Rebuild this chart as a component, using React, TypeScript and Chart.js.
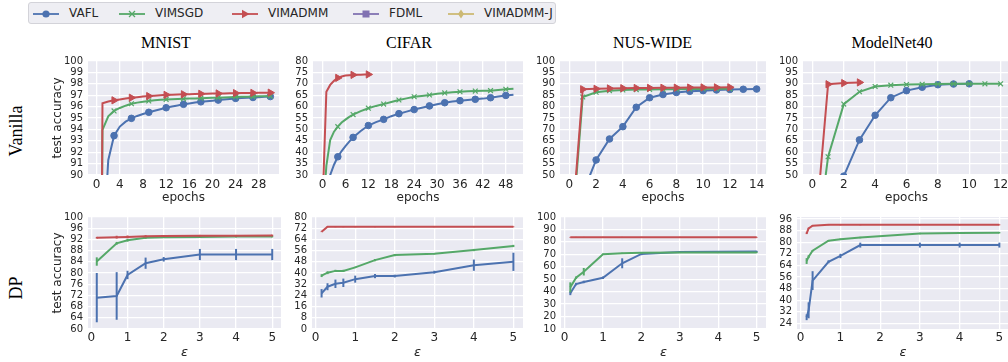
import React, { useEffect, useRef } from 'react';
import { Chart, registerables } from 'chart.js';
Chart.register(...registerables);

// ---------------- data ----------------
const seriesNames = ['VAFL', 'VIMSGD', 'VIMADMM', 'FDML', 'VIMADMM-J'];
const columnTitles = ['MNIST', 'CIFAR', 'NUS-WIDE', 'ModelNet40'];
const rowTitles = ['Vanilla', 'DP'];

// Vanilla – MNIST
const mnistEpochs = [0, 1, 2, 3, 4, 5, 6, 7, 8, 9, 10, 11, 12, 13, 14, 15, 16, 17, 18, 19, 20, 21, 22, 23, 24, 25, 26, 27, 28, 29, 30];
const mnistVafl = [10, 82.5, 91.3, 93.45, 94.25, 94.68, 94.97, 95.18, 95.35, 95.5, 95.64, 95.77, 95.9, 96.0, 96.1, 96.2, 96.28, 96.35, 96.42, 96.47, 96.52, 96.57, 96.62, 96.67, 96.72, 96.75, 96.78, 96.8, 96.83, 96.86, 96.88];
const mnistVimsgd = [10, 93.95, 95.15, 95.62, 95.88, 96.08, 96.25, 96.35, 96.43, 96.5, 96.55, 96.6, 96.63, 96.65, 96.67, 96.68, 96.7, 96.72, 96.74, 96.76, 96.77, 96.78, 96.8, 96.82, 96.84, 96.86, 96.87, 96.88, 96.9, 96.91, 96.92];
const mnistVimadmm = [10, 96.3, 96.45, 96.55, 96.63, 96.71, 96.78, 96.83, 96.88, 96.92, 96.96, 97.0, 97.03, 97.05, 97.07, 97.08, 97.09, 97.11, 97.12, 97.13, 97.14, 97.15, 97.16, 97.17, 97.18, 97.19, 97.19, 97.2, 97.21, 97.21, 97.22];
const mnistXTicks = [0, 4, 8, 12, 16, 20, 24, 28];
const mnistYTicks = [90, 91, 92, 93, 94, 95, 96, 97, 98, 99, 100];

// Vanilla – CIFAR
const cifarEpochs = [0, 1, 2, 3, 4, 5, 6, 7, 8, 10, 12, 14, 16, 18, 20, 22, 24, 26, 28, 30, 32, 34, 36, 38, 40, 42, 44, 46, 48, 50];
const cifarVafl = [10, 20, 30, 34.5, 38, 40.5, 42.7, 44.6, 46.5, 49.3, 51.7, 53.2, 54.4, 55.8, 56.9, 57.8, 58.7, 59.5, 60.3, 61.0, 61.7, 62.2, 62.6, 62.9, 63.2, 63.5, 63.9, 64.4, 64.9, 65.2];
const cifarVimsgd = [10, 34, 45.3, 49, 51.2, 53, 54.3, 55.5, 56.5, 58, 59.3, 60.3, 61.1, 62.0, 62.9, 63.6, 64.3, 64.7, 65.1, 65.6, 66.0, 66.3, 66.5, 66.7, 66.8, 66.9, 67.0, 67.3, 67.6, 67.8];
const cifarAdmmEpochs = [0, 1, 2, 3, 4, 5, 6, 7, 8, 9, 10, 11, 12];
const cifarVimadmm = [17, 66.5, 69.5, 71.3, 72.6, 73.2, 73.6, 73.8, 73.9, 74.0, 74.0, 74.05, 74.1];
const cifarXTicks = [0, 6, 12, 18, 24, 30, 36, 42, 48];
const cifarYTicks = [30, 35, 40, 45, 50, 55, 60, 65, 70, 75, 80];

// Vanilla – NUS-WIDE
const nusVaflEpochs = [0, 1, 2, 3, 4, 5, 6, 7, 8, 9, 10, 11, 12, 13, 14];
const nusVafl = [10, 42, 56.6, 65.8, 71.2, 79.7, 83.9, 85.3, 86.2, 86.7, 87.0, 87.3, 87.5, 87.6, 87.7];
const nusEpochs = [0, 1, 2, 3, 4, 5, 6, 7, 8, 9, 10, 11, 12];
const nusVimsgd = [10, 84.2, 86.3, 87.0, 87.3, 87.45, 87.55, 87.6, 87.65, 87.7, 87.75, 87.78, 87.8];
const nusVimadmm = [12.5, 87.6, 87.8, 87.95, 88.05, 88.15, 88.2, 88.25, 88.3, 88.35, 88.4, 88.42, 88.45];
const nusXTicks = [0, 2, 4, 6, 8, 10, 12, 14];
const nusYTicks = [50, 55, 60, 65, 70, 75, 80, 85, 90, 95, 100];

// Vanilla – ModelNet40
const mnVaflEpochs = [0, 1, 2, 3, 4, 5, 6, 7, 8, 9, 10];
const mnVafl = [5, 30, 49.5, 65.4, 76.2, 83.9, 87.0, 88.5, 89.6, 89.9, 90.0];
const mnSgdEpochs = [0, 1, 2, 3, 4, 5, 6, 7, 8, 9, 10, 11, 12];
const mnVimsgd = [5, 58, 81.1, 86.5, 88.8, 89.4, 89.7, 89.8, 89.9, 90.0, 90.0, 90.0, 90.0];
const mnAdmmEpochs = [0, 1, 2, 3];
const mnVimadmm = [10, 89.8, 90.3, 90.6];
const mnXTicks = [0, 2, 4, 6, 8, 10, 12];
const mnYTicks = [50, 55, 60, 65, 70, 75, 80, 85, 90, 95, 100];

// DP – MNIST
const dpMnistEps = [0.15, 0.7, 1, 1.5, 2, 3, 4, 5];
const dpMnistVafl = [71.2, 71.8, 79.3, 83.5, 84.9, 86.6, 86.6, 86.6];
const dpMnistVaflErr = [8.8, 8.5, 1.5, 2.0, 0.8, 2.0, 2.0, 2.0];
const dpMnistVimsgd = [84.1, 90.6, 91.7, 92.6, 92.8, 92.9, 93.0, 93.0];
const dpMnistVimsgdErr = [1.5, 0.5, 0.5, 0.4, 0.3, 0.3, 0.3, 0.3];
const dpMnistVimadmm = [92.6, 92.8, 92.9, 93.1, 93.2, 93.3, 93.3, 93.4];
const dpMnistVimadmmErr = [0.3, 0.5, 0.5, 0.4, 0.3, 0.3, 0.3, 0.3];
const dpMnistYTicks = [60, 64, 68, 72, 76, 80, 84, 88, 92, 96, 100];

// DP – CIFAR
const dpCifarEps = [0.15, 0.3, 0.5, 0.7, 1, 1.5, 2, 3, 4, 5];
const dpCifarVafl = [25.5, 30.2, 32.3, 33.0, 35.6, 37.8, 37.8, 40.6, 45.6, 48.0];
const dpCifarVaflErr = [3, 2.5, 3, 3, 2.5, 1.5, 1, 1, 4, 6.5];
const dpCifarVimsgd = [38.1, 40.2, 41.5, 41.5, 44.0, 49.2, 52.8, 53.8, 56.4, 59.3];
const dpCifarVimsgdErr = [1, 1, 0.8, 0.8, 0.5, 0.8, 0.8, 0.5, 0.8, 0.8];
const dpCifarVimadmm = [69.5, 73, 73, 73, 73, 73, 73, 73, 73, 73];
const dpCifarVimadmmErr = [0.3, 0.3, 0.3, 0.3, 0.3, 0.3, 0.3, 0.3, 0.3, 0.3];
const dpCifarYTicks = [0, 8, 16, 24, 32, 40, 48, 56, 64, 72, 80];

// DP – NUS-WIDE
const dpNusEps = [0.15, 0.3, 0.5, 1, 1.5, 2, 3, 4, 5];
const dpNusVafl = [38.7, 46.1, 47.8, 51.2, 62.8, 70.3, 71.8, 72.0, 72.3];
const dpNusVaflErr = [1.5, 1, 1, 1, 4, 1, 0.5, 0.5, 0.5];
const dpNusVimsgd = [43.5, 51.2, 56.0, 70.0, 70.8, 71.2, 71.5, 71.5, 71.5];
const dpNusVimsgdErr = [4, 1, 3, 0.5, 0.5, 0.5, 0.5, 0.5, 0.5];
const dpNusVimadmm = [83.7, 83.7, 83.7, 83.7, 83.7, 83.7, 83.7, 83.7, 83.7];
const dpNusVimadmmErr = [0.3, 0.3, 0.3, 0.3, 0.3, 0.3, 0.3, 0.3, 0.3];
const dpNusYTicks = [10, 20, 30, 40, 50, 60, 70, 80, 90, 100];

// DP – ModelNet40
const dpMnEps = [0.15, 0.2, 0.3, 0.7, 1, 1.5, 3, 4, 5];
const dpMnVafl = [28.2, 33, 53.5, 66.5, 70.5, 78.0, 78.0, 78.0, 78.0];
const dpMnVaflErr = [2, 5.5, 6.5, 1, 1.5, 1.7, 1.7, 1.7, 1.7];
const dpMnVimsgd = [67, 70, 74.1, 81, 82, 83.2, 86, 86.3, 86.6];
const dpMnVimsgdErr = [2, 1, 0.5, 0.5, 0.5, 0.5, 0.5, 0.5, 0.5];
const dpMnVimadmm = [86.1, 89.6, 91.4, 92, 92, 92, 92, 92, 92];
const dpMnVimadmmErr = [0.5, 0.4, 0.3, 0.3, 0.3, 0.3, 0.3, 0.3, 0.3];
const dpMnYTicks = [24, 32, 40, 48, 56, 64, 72, 80, 88, 96];

const dpXTicks = [0, 1, 2, 3, 4, 5];

// ---------------- styles ----------------
const BLUE = '#4C72B0';
const GREEN = '#55A868';
const RED = '#C44E52';
const PURPLE = '#8172B2';
const GOLD = '#CCB974';
const TEXT = '#262626';
const FONT = "'DejaVu Sans', sans-serif";
const SERIF = "'Liberation Serif', 'Times New Roman', serif";

type Series = { label: string; x: number[]; y: number[]; err?: number[]; color: string; marker: string };
type PanelCfg = {
  left: number; right: number; top: number; bottom: number;
  xMin: number; xMax: number; yMin: number; yMax: number;
  xTicks: number[]; yTicks: number[];
  series: Series[];
  xTitle: string; italic: boolean; yTitle?: string;
  markEvery: number; axisH: number; tickPad: number; titlePad: number;
};

const vafl = (x: number[], y: number[], err?: number[]): Series => ({ label: seriesNames[0], x, y, err, color: BLUE, marker: 'circle' });
const vimsgd = (x: number[], y: number[], err?: number[]): Series => ({ label: seriesNames[1], x, y, err, color: GREEN, marker: 'crossRot' });
const vimadmm = (x: number[], y: number[], err?: number[]): Series => ({ label: seriesNames[2], x, y, err, color: RED, marker: 'triangle' });

const TOPROW = { top: 61, bottom: 175, axisH: 31, tickPad: 3, titlePad: 0.8, xTitle: 'epochs', italic: false };
const BOTROW = { top: 217, bottom: 329, axisH: 32, tickPad: 2, titlePad: 0.2, xTitle: 'ε', italic: true };
const DPX = { xMin: -0.0925, xMax: 5.2425, xTicks: dpXTicks, markEvery: 0 };

const panels: PanelCfg[] = [
  { ...TOPROW, left: 88, right: 279, xMin: -1.5, xMax: 31.5, yMin: 90, yMax: 100, xTicks: mnistXTicks, yTicks: mnistYTicks, markEvery: 3, yTitle: 'test accuracy',
    series: [vafl(mnistEpochs, mnistVafl), vimsgd(mnistEpochs, mnistVimsgd), vimadmm(mnistEpochs, mnistVimadmm)] },
  { ...TOPROW, left: 313, right: 523, xMin: -2.5, xMax: 52.5, yMin: 30, yMax: 80, xTicks: cifarXTicks, yTicks: cifarYTicks, markEvery: 4,
    series: [vafl(cifarEpochs, cifarVafl), vimsgd(cifarEpochs, cifarVimsgd), vimadmm(cifarAdmmEpochs, cifarVimadmm)] },
  { ...TOPROW, left: 560, right: 766, xMin: -0.7, xMax: 14.7, yMin: 50, yMax: 100, xTicks: nusXTicks, yTicks: nusYTicks, markEvery: 1,
    series: [vafl(nusVaflEpochs, nusVafl), vimsgd(nusEpochs, nusVimsgd), vimadmm(nusEpochs, nusVimadmm)] },
  { ...TOPROW, left: 803, right: 1010, xMin: -0.6, xMax: 12.6, yMin: 50, yMax: 100, xTicks: mnXTicks, yTicks: mnYTicks, markEvery: 1,
    series: [vafl(mnVaflEpochs, mnVafl), vimsgd(mnSgdEpochs, mnVimsgd), vimadmm(mnAdmmEpochs, mnVimadmm)] },
  { ...BOTROW, ...DPX, left: 88, right: 281, yMin: 60, yMax: 100, yTicks: dpMnistYTicks, yTitle: 'test accuracy',
    series: [vafl(dpMnistEps, dpMnistVafl, dpMnistVaflErr), vimsgd(dpMnistEps, dpMnistVimsgd, dpMnistVimsgdErr), vimadmm(dpMnistEps, dpMnistVimadmm, dpMnistVimadmmErr)] },
  { ...BOTROW, ...DPX, left: 312, right: 523, yMin: 0, yMax: 80, yTicks: dpCifarYTicks,
    series: [vafl(dpCifarEps, dpCifarVafl, dpCifarVaflErr), vimsgd(dpCifarEps, dpCifarVimsgd, dpCifarVimsgdErr), vimadmm(dpCifarEps, dpCifarVimadmm, dpCifarVimadmmErr)] },
  { ...BOTROW, ...DPX, left: 561, right: 766, yMin: 10, yMax: 100, yTicks: dpNusYTicks,
    series: [vafl(dpNusEps, dpNusVafl, dpNusVaflErr), vimsgd(dpNusEps, dpNusVimsgd, dpNusVimsgdErr), vimadmm(dpNusEps, dpNusVimadmm, dpNusVimadmmErr)] },
  { ...BOTROW, ...DPX, left: 797, right: 1009, yMin: 20.1, yMax: 97.4, yTicks: dpMnYTicks,
    series: [vafl(dpMnEps, dpMnVafl, dpMnVaflErr), vimsgd(dpMnEps, dpMnVimsgd, dpMnVimsgdErr), vimadmm(dpMnEps, dpMnVimadmm, dpMnVimadmmErr)] },
];

const bgPlugin = {
  id: 'bgArea',
  beforeDraw(chart: any) {
    const { ctx, chartArea: a } = chart;
    ctx.save();
    ctx.fillStyle = '#EAEAF2';
    ctx.fillRect(a.left, a.top, a.right - a.left, a.bottom - a.top);
    ctx.restore();
  },
};

const errPlugin = {
  id: 'errBars',
  afterDatasetDraw(chart: any, args: any) {
    const ds = chart.data.datasets[args.index];
    if (!ds.errors) return;
    const { ctx, chartArea: a } = chart;
    const xs = chart.scales.x;
    const ys = chart.scales.y;
    ctx.save();
    ctx.beginPath();
    ctx.rect(a.left, a.top, a.right - a.left, a.bottom - a.top);
    ctx.clip();
    ctx.strokeStyle = ds.borderColor;
    ctx.lineWidth = ds.borderWidth;
    ds.data.forEach((p: any, i: number) => {
      const e = ds.errors[i];
      if (!e) return;
      const px = xs.getPixelForValue(p.x);
      ctx.beginPath();
      ctx.moveTo(px, ys.getPixelForValue(p.y - e));
      ctx.lineTo(px, ys.getPixelForValue(p.y + e));
      ctx.stroke();
    });
    ctx.restore();
  },
};

const YW = 42;
const PT = 8;
const PR = 14;

function Panel({ cfg }: { cfg: PanelCfg }) {
  const ref = useRef<HTMLCanvasElement>(null);
  const plotW = cfg.right - cfg.left;
  const plotH = cfg.bottom - cfg.top;
  const w = YW + plotW + PR;
  const h = PT + plotH + cfg.axisH;
  useEffect(() => {
    if (!ref.current) return;
    const datasets = cfg.series.slice().reverse().map((s) => ({
      label: s.label,
      data: s.x.map((x, i) => ({ x, y: s.y[i] })),
      errors: s.err,
      borderColor: s.color,
      backgroundColor: s.color,
      borderWidth: 2,
      tension: 0,
      clip: 0,
      pointStyle: s.marker,
      pointRotation: s.marker === 'triangle' ? 90 : 0,
      pointRadius: (c: any) => {
        if (!cfg.markEvery) return 0;
        const x = c.raw ? c.raw.x : 0;
        if (x <= 0 || x % cfg.markEvery !== 0) return 0;
        return s.marker === 'triangle' ? 4.2 : s.marker === 'crossRot' ? 3.4 : 3.3;
      },
      pointHoverRadius: 0,
      pointBackgroundColor: s.color,
      pointBorderColor: s.color,
      pointBorderWidth: s.marker === 'crossRot' ? 1.2 : 1,
    }));
    const tickFontX = { family: FONT, size: 12 };
    const tickFontY = { family: FONT, size: 10 };
    const chart = new Chart(ref.current, {
      type: 'line',
      data: { datasets } as any,
      options: {
        animation: false,
        responsive: false,
        devicePixelRatio: 1,
        events: [],
        layout: { padding: { top: PT, right: PR, left: 0, bottom: 0 } },
        plugins: { legend: { display: false }, tooltip: { enabled: false }, title: { display: false } },
        scales: {
          x: {
            type: 'linear',
            min: cfg.xMin,
            max: cfg.xMax,
            afterBuildTicks: (ax: any) => { ax.ticks = cfg.xTicks.map((v) => ({ value: v })); },
            afterFit: (s: any) => { s.height = cfg.axisH; s.paddingLeft = 0; s.paddingRight = 0; },
            grid: { color: '#ffffff', lineWidth: 1.3, drawTicks: false },
            border: { display: false },
            ticks: { padding: cfg.tickPad, font: tickFontX, color: TEXT, maxRotation: 0, autoSkip: false, callback: (v: any) => String(v) },
            title: {
              display: true, text: cfg.xTitle, color: TEXT,
              font: { family: FONT, size: cfg.italic ? 13 : 12, style: cfg.italic ? 'italic' : 'normal' },
              padding: { top: 0, bottom: cfg.titlePad },
            },
          },
          y: {
            type: 'linear',
            min: cfg.yMin,
            max: cfg.yMax,
            afterBuildTicks: (ax: any) => { ax.ticks = cfg.yTicks.map((v) => ({ value: v })); },
            afterFit: (s: any) => { s.width = YW; s.paddingTop = 0; s.paddingBottom = 0; },
            grid: { color: '#ffffff', lineWidth: 1.3, drawTicks: false },
            border: { display: false },
            ticks: { padding: 5, font: tickFontY, color: TEXT, autoSkip: false, callback: (v: any) => String(v) },
            title: {
              display: !!cfg.yTitle, text: cfg.yTitle || '', color: TEXT,
              font: { family: FONT, size: 12 },
              padding: { top: 58 - 7.2 - (cfg.left - YW), bottom: 0 },
            },
          },
        },
      } as any,
      plugins: [bgPlugin, errPlugin],
    });
    return () => chart.destroy();
  }, []);
  return (
    <canvas
      ref={ref}
      width={w}
      height={h}
      style={{ position: 'absolute', left: cfg.left - YW, top: cfg.top - PT, width: w, height: h }}
    />
  );
}

const legendColors = [BLUE, GREEN, RED, PURPLE, GOLD];
const legendX = [32, 118, 231, 352, 447];

function Marker({ i }: { i: number }) {
  const c = legendColors[i];
  const cx = 13, cy = 6;
  let m: any = null;
  if (i === 0) m = <circle cx={cx} cy={cy} r={3.6} fill={c} />;
  if (i === 1) m = (<g stroke={c} strokeWidth={1.2}><line x1={cx - 3} y1={cy - 3} x2={cx + 3} y2={cy + 3} /><line x1={cx - 3} y1={cy + 3} x2={cx + 3} y2={cy - 3} /></g>);
  if (i === 2) m = <polygon points={`${cx + 4.5},${cy} ${cx - 3},${cy - 4.2} ${cx - 3},${cy + 4.2}`} fill={c} />;
  if (i === 3) m = <rect x={cx - 3.5} y={cy - 3.5} width={7} height={7} fill={c} />;
  if (i === 4) m = <polygon points={`${cx},${cy - 4.5} ${cx + 3},${cy} ${cx},${cy + 4.5} ${cx - 3},${cy}`} fill={c} />;
  return (
    <svg width={26} height={12} style={{ position: 'absolute', left: 0, top: -6 }}>
      <line x1={0} y1={cy} x2={26} y2={cy} stroke={c} strokeWidth={1.8} />
      {m}
    </svg>
  );
}

function Legend() {
  return (
    <div style={{ position: 'absolute', left: 28, top: 2, width: 528, height: 22, boxSizing: 'border-box', background: '#EEEEF3', border: '1px solid #D3D3D9', borderRadius: 3 }}>
      {seriesNames.map((n, i) => (
        <div key={n} style={{ position: 'absolute', left: legendX[i] - 28, top: 11 }}>
          <Marker i={i} />
          <span style={{ position: 'absolute', left: 36, top: -8, font: `12px ${FONT}`, color: TEXT, whiteSpace: 'nowrap', lineHeight: '15px' }}>{n}</span>
        </div>
      ))}
    </div>
  );
}

const titleX = [166, 409, 652.5, 892];
const rowY = [131, 288];

export default function App() {
  return (
    <div style={{ position: 'fixed', left: 0, top: 0, width: 1008, height: 362, overflow: 'hidden', background: '#ffffff' }}>
      <Legend />
      {columnTitles.map((t, i) => (
        <div key={t} style={{ position: 'absolute', left: titleX[i], top: 43, transform: 'translate(-50%, -50%)', font: `16px ${SERIF}`, color: '#000', whiteSpace: 'nowrap' }}>{t}</div>
      ))}
      {rowTitles.map((t, i) => (
        <div key={t} style={{ position: 'absolute', left: 16, top: rowY[i], transform: 'translate(-50%, -50%) rotate(-90deg)', font: `18px ${SERIF}`, color: '#000', whiteSpace: 'nowrap' }}>{t}</div>
      ))}
      {panels.map((p, i) => <Panel key={i} cfg={p} />)}
    </div>
  );
}
